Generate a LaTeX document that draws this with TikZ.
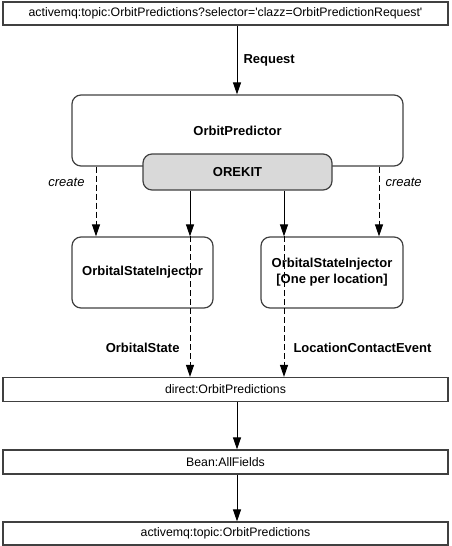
\documentclass[tikz,border=0pt]{standalone}
\usepackage{fontspec}
\setmainfont{Liberation Sans}
\usetikzlibrary{positioning}
\usetikzlibrary{arrows.meta}
\usetikzlibrary{math}

\tikzset{
  queue/.style={draw=black!75, line width=1.2pt, minimum width=445pt, minimum height=24pt,
    inner sep=0pt, font=\fontsize{12.3}{14}\selectfont},
  comp/.style={draw=black!75, line width=1.2pt, rounded corners=9pt, align=center,
    inner sep=0pt, font=\fontsize{13}{16}\selectfont\bfseries},
  flow/.style={line width=1pt, -{Triangle[length=12pt,width=8pt]}},
  spawn/.style={flow, dash pattern=on 6pt off 3pt},
  lbl/.style={font=\fontsize{13}{15}\selectfont\bfseries, inner sep=0pt},
  note/.style={font=\fontsize{13}{15}\selectfont\itshape, inner sep=0pt},
}

\begin{document}
\begin{tikzpicture}[x=1pt,y=-1pt]
  \tikzmath{
    \xm = 237;
    \xa = 96;
    \xb = 190;
    \xc = 284;
    \xd = 379;
  }
  \useasboundingbox (0,0) rectangle (451,546);

  \coordinate (colM) at (\xm,0);
  \coordinate (colA) at (\xa,0);
  \coordinate (colB) at (\xb,0);
  \coordinate (colC) at (\xc,0);
  \coordinate (colD) at (\xd,0);

  % endpoints and routes
  \node[queue, minimum height=23pt] (src) at (225.5,13.5)
    {activemq:topic:OrbitPredictions?selector=\textquotesingle clazz=OrbitPredictionRequest\textquotesingle};
  \node[queue] (direct) at (225.5,389.5) {direct:OrbitPredictions};
  \node[queue] (bean) at (225.5,462) {Bean:AllFields};
  \node[queue, minimum height=23pt] (dest) at (225.5,533.5) {activemq:topic:OrbitPredictions};

  % components
  \node[comp, minimum width=331pt, minimum height=71pt] (pred) at (237.5,130.5) {OrbitPredictor};
  \node[comp, fill=black!15, minimum width=189pt, minimum height=36pt] (orekit) at (237.5,172) {OREKIT};
  \node[comp, minimum width=141pt, minimum height=71pt] (inj1) at (142.5,272.5) {OrbitalStateInjector};
  \node[comp, minimum width=142pt, minimum height=71pt] (inj2) at (332,272.5)
    {OrbitalStateInjector\\{}[One per location]};

  \draw[flow] (src.south -| colM) -- (pred.north -| colM)
    node[lbl, midway, right=6pt] {Request};

  \draw[spawn] (pred.south -| colA) -- (inj1.north -| colA)
    node[note, pos=0.22, left=11pt] {create};
  \draw[spawn] (pred.south -| colD) -- (inj2.north -| colD)
    node[note, pos=0.22, right=6pt] {create};

  \draw[flow] (orekit.south -| colB) -- (inj1.north -| colB);
  \draw[flow] (orekit.south -| colC) -- (inj2.north -| colC);

  \draw[spawn] (inj1.north -| colB) -- (direct.north -| colB)
    node[lbl, pos=0.79, left=10pt] {OrbitalState};
  \draw[spawn] (inj2.north -| colC) -- (direct.north -| colC)
    node[lbl, pos=0.79, right=9pt] {LocationContactEvent};

  \draw[flow] (direct.south -| colM) -- (bean.north -| colM);
  \draw[flow] (bean.south -| colM) -- (dest.north -| colM);

\end{tikzpicture}
\end{document}
